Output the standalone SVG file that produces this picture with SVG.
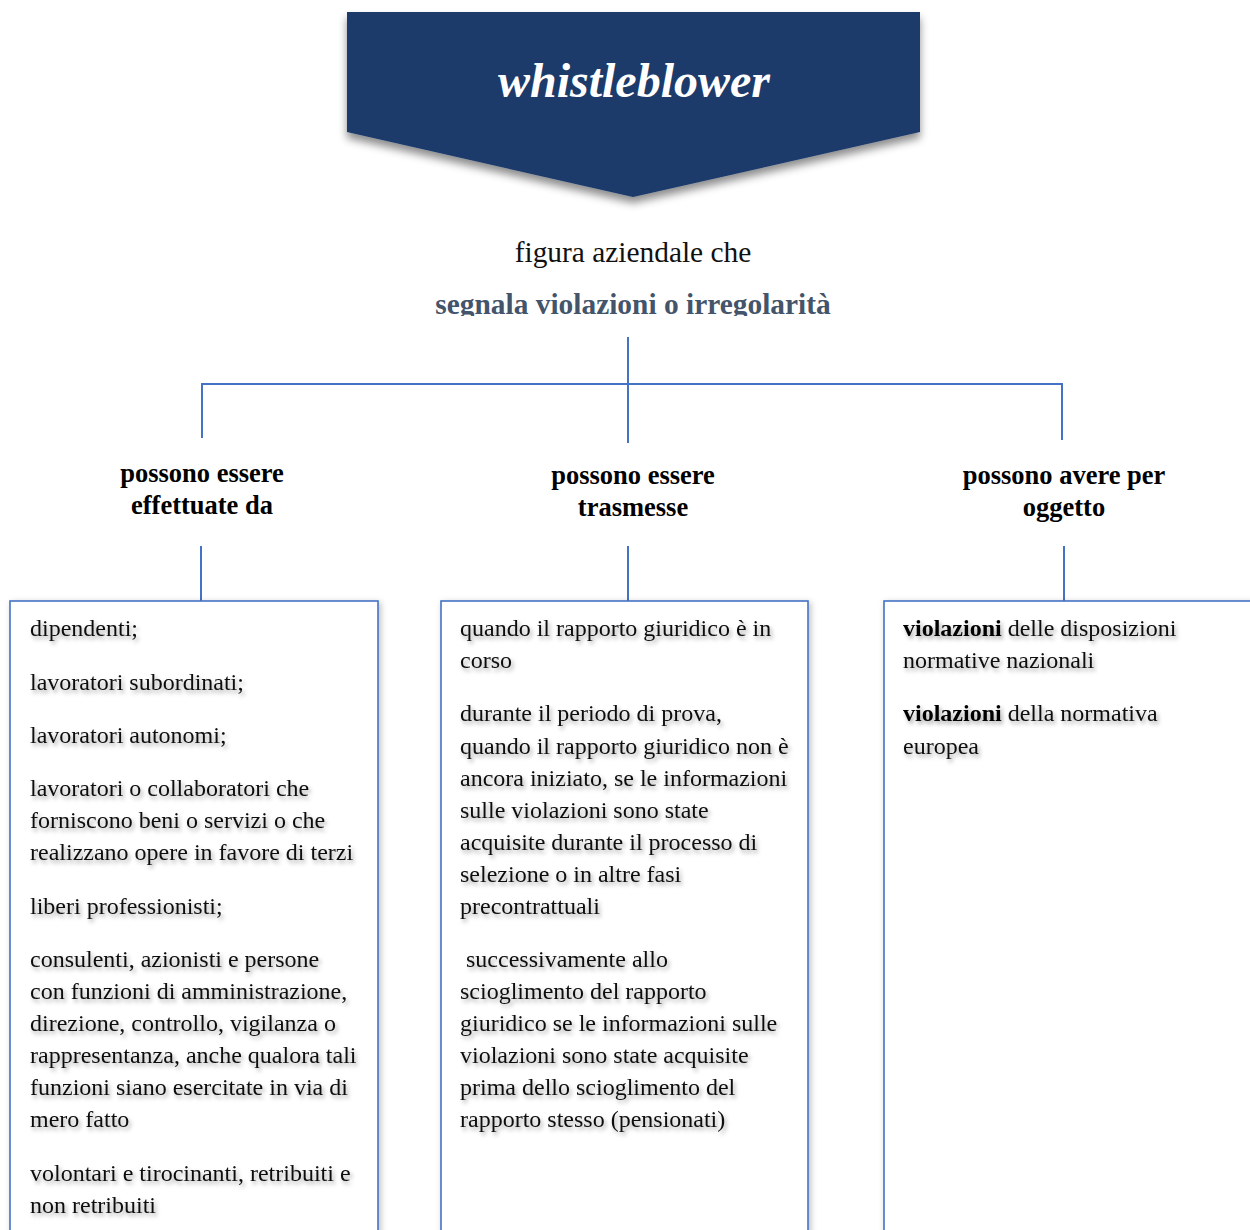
<svg xmlns="http://www.w3.org/2000/svg" width="1250" height="1230" viewBox="0 0 1250 1230">
<defs>
<filter id="ts" x="-10%" y="-30%" width="120%" height="180%">
<feDropShadow dx="2" dy="3" stdDeviation="2" flood-color="#000" flood-opacity="0.35"/>
</filter>
<filter id="bs" x="-10%" y="-10%" width="120%" height="130%">
<feDropShadow dx="0" dy="6" stdDeviation="4" flood-color="#000" flood-opacity="0.45"/>
</filter>
<filter id="boxs" x="-5%" y="-5%" width="110%" height="110%">
<feDropShadow dx="2" dy="2" stdDeviation="3" flood-color="#000" flood-opacity="0.25"/>
</filter>
<clipPath id="subclip"><rect x="0" y="280" width="1250" height="36"/></clipPath>
</defs>
<style>
.t{font-family:"Liberation Serif","Times New Roman",serif;font-size:24px;fill:#111;}
.lab{font-family:"Liberation Serif","Times New Roman",serif;font-size:26.5px;font-weight:bold;fill:#000;text-anchor:middle;}
.ln{stroke:#4472C4;stroke-width:2;fill:none;}
.box{fill:#fff;stroke:#4472C4;stroke-width:1.6;}
</style>
<rect width="1250" height="1230" fill="#fff"/>

<g id="title">
<polygon points="347,12 920,12 920,132 633,197 347,132" fill="#1B3A6B" filter="url(#bs)"/>
<text x="634" y="97" text-anchor="middle" font-family="Liberation Serif, Times New Roman, serif" font-size="48" font-weight="bold" font-style="italic" fill="#fff">whistleblower</text>
</g>

<g id="subtitle">
<text x="633" y="262" text-anchor="middle" font-family="Liberation Serif, Times New Roman, serif" font-size="29.4" fill="#111">figura aziendale che</text>
<text x="633" y="314" text-anchor="middle" font-family="Liberation Serif, Times New Roman, serif" font-size="29.4" font-weight="bold" fill="#44546A" clip-path="url(#subclip)">segnala violazioni o irregolarità</text>
</g>

<g id="connectors">
<line class="ln" x1="628" y1="337" x2="628" y2="443"/>
<polyline class="ln" points="202,438 202,384 1062,384 1062,440"/>
<line class="ln" x1="201" y1="546" x2="201" y2="601"/>
<line class="ln" x1="628" y1="546" x2="628" y2="601"/>
<line class="ln" x1="1064" y1="546" x2="1064" y2="601"/>
</g>

<g id="label-left">
<text class="lab" x="202" y="482">possono essere</text>
<text class="lab" x="202" y="514">effettuate da</text>
</g>
<g id="label-middle">
<text class="lab" x="633" y="484">possono essere</text>
<text class="lab" x="633" y="516">trasmesse</text>
</g>
<g id="label-right">
<text class="lab" x="1064" y="484">possono avere per</text>
<text class="lab" x="1064" y="516">oggetto</text>
</g>

<g id="box-left">
<rect class="box" x="10" y="601" width="368" height="660" filter="url(#boxs)"/>
<g class="t" filter="url(#ts)">
<text x="30" y="636">dipendenti;</text>
<text x="30" y="690">lavoratori subordinati;</text>
<text x="30" y="743">lavoratori autonomi;</text>
<text x="30" y="796">lavoratori o collaboratori che</text>
<text x="30" y="828">forniscono beni o servizi o che</text>
<text x="30" y="860">realizzano opere in favore di terzi</text>
<text x="30" y="914">liberi professionisti;</text>
<text x="30" y="967">consulenti, azionisti e persone</text>
<text x="30" y="999">con funzioni di amministrazione,</text>
<text x="30" y="1031">direzione, controllo, vigilanza o</text>
<text x="30" y="1063">rappresentanza, anche qualora tali</text>
<text x="30" y="1095">funzioni siano esercitate in via di</text>
<text x="30" y="1127">mero fatto</text>
<text x="30" y="1181">volontari e tirocinanti, retribuiti e</text>
<text x="30" y="1213">non retribuiti</text>
</g>
</g>

<g id="box-middle">
<rect class="box" x="441" y="601" width="367" height="660" filter="url(#boxs)"/>
<g class="t" filter="url(#ts)">
<text x="460" y="636">quando il rapporto giuridico è in</text>
<text x="460" y="668">corso</text>
<text x="460" y="721">durante il periodo di prova,</text>
<text x="460" y="754">quando il rapporto giuridico non è</text>
<text x="460" y="786">ancora iniziato, se le informazioni</text>
<text x="460" y="818">sulle violazioni sono state</text>
<text x="460" y="850">acquisite durante il processo di</text>
<text x="460" y="882">selezione o in altre fasi</text>
<text x="460" y="914">precontrattuali</text>
<text x="466" y="967">successivamente allo</text>
<text x="460" y="999">scioglimento del rapporto</text>
<text x="460" y="1031">giuridico se le informazioni sulle</text>
<text x="460" y="1063">violazioni sono state acquisite</text>
<text x="460" y="1095">prima dello scioglimento del</text>
<text x="460" y="1127">rapporto stesso (pensionati)</text>
</g>
</g>

<g id="box-right">
<rect class="box" x="884" y="601" width="400" height="660" filter="url(#boxs)"/>
<g class="t" filter="url(#ts)">
<text x="903" y="636"><tspan font-weight="bold" fill="#000">violazioni</tspan> delle disposizioni</text>
<text x="903" y="668">normative nazionali</text>
<text x="903" y="721"><tspan font-weight="bold" fill="#000">violazioni</tspan> della normativa</text>
<text x="903" y="754">europea</text>
</g>
</g>
</svg>
